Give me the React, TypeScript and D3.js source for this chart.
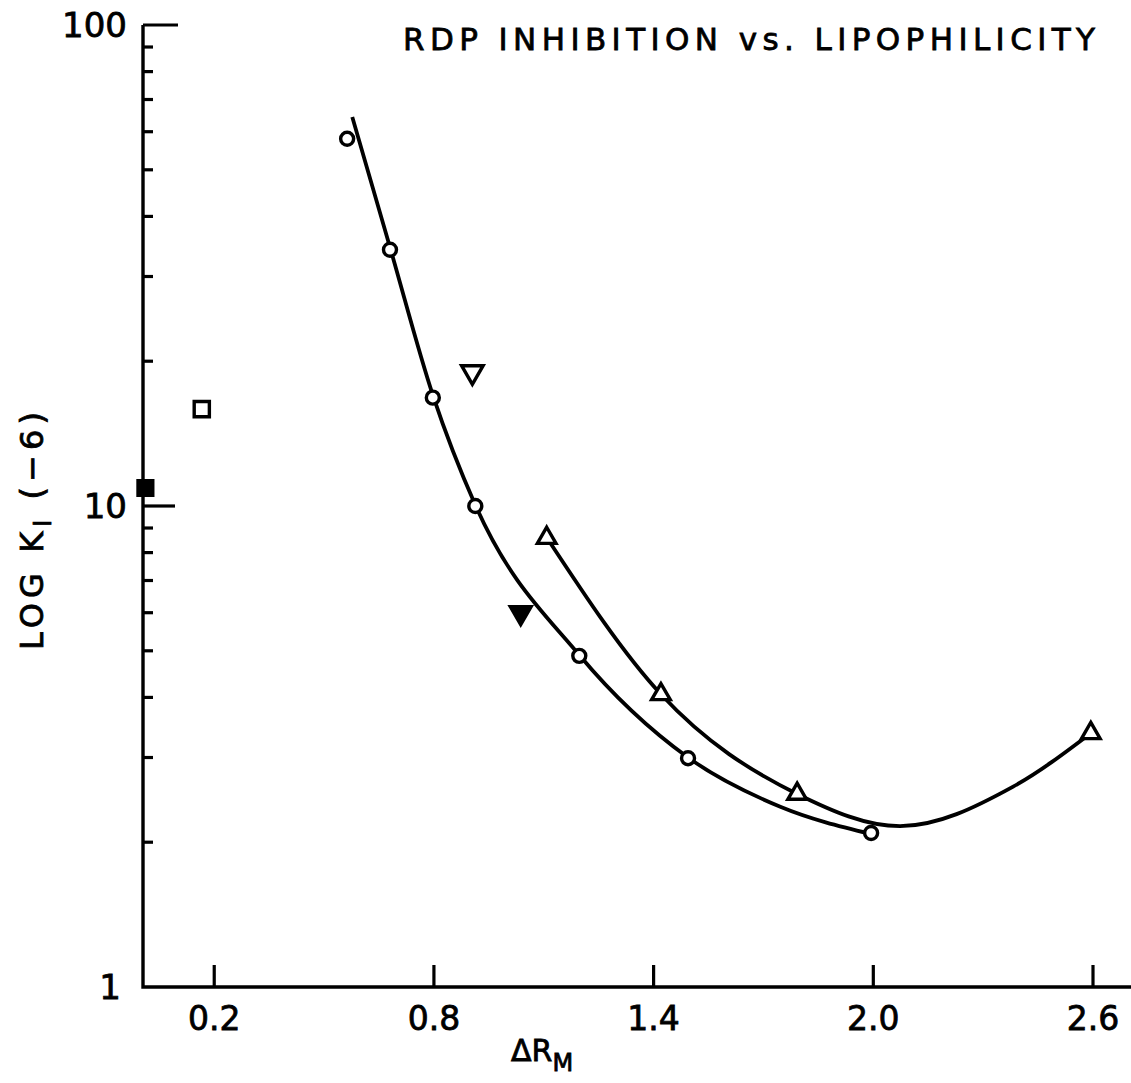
import React from "react";
import * as d3 from "d3";

// values
const xTicks = [0.2, 0.8, 1.4, 2.0, 2.6];
const yMajor = [1, 10, 100];

const circleX = [0.563, 0.68, 0.797, 0.913, 1.197, 1.494, 1.994];
const circleY = [58, 34.1, 16.8, 10, 4.88, 2.99, 2.09];

const triX = [1.108, 1.42, 1.792, 2.594];
const triY = [8.58, 4.06, 2.52, 3.37];

// fitted curves drawn through the points
const circleCurveX = [0.577, 0.68, 0.797, 0.913, 1.197, 1.494, 1.746, 1.994];
const circleCurveY = [64.4, 34.5, 17, 10.05, 4.9, 3.0, 2.37, 2.08];
const triCurveX = [1.108, 1.42, 1.792, 2.073, 2.382, 2.594];
const triCurveY = [8.6, 4.06, 2.52, 2.16, 2.61, 3.37];

// single compounds
const invOpen = [0.905, 19.0];
const invFilled = [1.037, 6.0];
const sqOpen = [0.166, 15.9];
const sqFilled = [0.012, 10.9];

const W = 1131;
const H = 1083;
const font = "'DejaVu Sans', Verdana, sans-serif";

const App = () => {
    const x = d3.scaleLinear().domain([0, 2.6]).range([141, 1093]);
    const y = d3.scaleLog().domain([1, 100]).range([987, 25]);

    const line = d3.line<number[]>()
        .x(d => x(d[0]))
        .y(d => y(d[1]))
        .curve(d3.curveMonotoneX);

    const circlePath = line(circleCurveX.map((v, i) => [v, circleCurveY[i]]));
    const triPath = line(triCurveX.map((v, i) => [v, triCurveY[i]]));

    const tri = d3.symbol().type(d3.symbolTriangle).size(150)();
    const inv = d3.symbol().type(d3.symbolTriangle).size(200)();
    const sq = d3.symbol().type(d3.symbolSquare).size(230)();

    const minor: number[] = [];
    [1, 10].forEach(dec => {
        for (let k = 2; k <= 9; k++) minor.push(k * dec);
    });

    const x0 = x(0) + 2;
    const yb = y(1);
    const txt = {fontFamily: font, stroke: "#000", strokeWidth: 0.8, fill: "#000"};

    return (
        <svg width={W} height={H} style={{position: "absolute", left: 0, top: 0, background: "#fff"}}>
            {/* axes */}
            <path d={`M${x0},${y(100)} L${x0},${yb} L${W},${yb}`} fill="none" stroke="#000" strokeWidth={3.4}/>
            <line x1={x0} x2={x0 + 35} y1={y(100)} y2={y(100)} stroke="#000" strokeWidth={3.2}/>
            <line x1={x0} x2={x0 + 32} y1={y(10)} y2={y(10)} stroke="#000" strokeWidth={3.2}/>
            {minor.map(m => (
                <line key={m} x1={x0} x2={x0 + 10} y1={y(m)} y2={y(m)} stroke="#000" strokeWidth={3.2}/>
            ))}
            {xTicks.map(t => (
                <g key={t}>
                    <line x1={x(t)} x2={x(t)} y1={yb} y2={yb - 22} stroke="#000" strokeWidth={3.2}/>
                    <text x={x(t)} y={1030} textAnchor="middle" fontSize={33} {...txt}>{t.toFixed(1)}</text>
                </g>
            ))}
            {yMajor.map(t => (
                <text key={t} x={t === 1 ? 121 : 127} y={y(t) + 12} textAnchor="end" fontSize={34} {...txt}>{t}</text>
            ))}

            {/* titles */}
            <text x={403} y={50} fontSize={31} textLength={692} lengthAdjust="spacing" {...txt}>RDP INHIBITION vs. LIPOPHILICITY</text>
            <text x={511} y={1061} fontSize={30} {...txt}>
                ΔR<tspan dy={10} fontSize={24}>M</tspan>
            </text>
            <text transform="translate(43,650) rotate(-90)" fontSize={32} textLength={238} lengthAdjust="spacing" {...txt}>
                LOG K<tspan dy={8} fontSize={24}>I</tspan><tspan dy={-8}> (−6)</tspan>
            </text>

            {/* curves */}
            <path d={circlePath || ""} fill="none" stroke="#000" strokeWidth={3.8}/>
            <path d={triPath || ""} fill="none" stroke="#000" strokeWidth={3.8}/>

            {/* markers */}
            {circleX.map((v, i) => (
                <circle key={i} cx={x(v)} cy={y(circleY[i])} r={6.5} fill="#fff" stroke="#000" strokeWidth={3.4}/>
            ))}
            {triX.map((v, i) => (
                <path key={i} d={tri || ""} transform={`translate(${x(v)},${y(triY[i])})`} fill="#fff" stroke="#000" strokeWidth={3.4}/>
            ))}
            <path d={inv || ""} transform={`translate(${x(invOpen[0])},${y(invOpen[1])}) rotate(180)`} fill="#fff" stroke="#000" strokeWidth={3.4}/>
            <path d={inv || ""} transform={`translate(${x(invFilled[0])},${y(invFilled[1])}) rotate(180)`} fill="#000" stroke="#000" strokeWidth={3}/>
            <path d={sq || ""} transform={`translate(${x(sqOpen[0])},${y(sqOpen[1])})`} fill="#fff" stroke="#000" strokeWidth={3.4}/>
            <path d={sq || ""} transform={`translate(${x(sqFilled[0])},${y(sqFilled[1])})`} fill="#000" stroke="#000" strokeWidth={3}/>
        </svg>
    );
};

export default App;
